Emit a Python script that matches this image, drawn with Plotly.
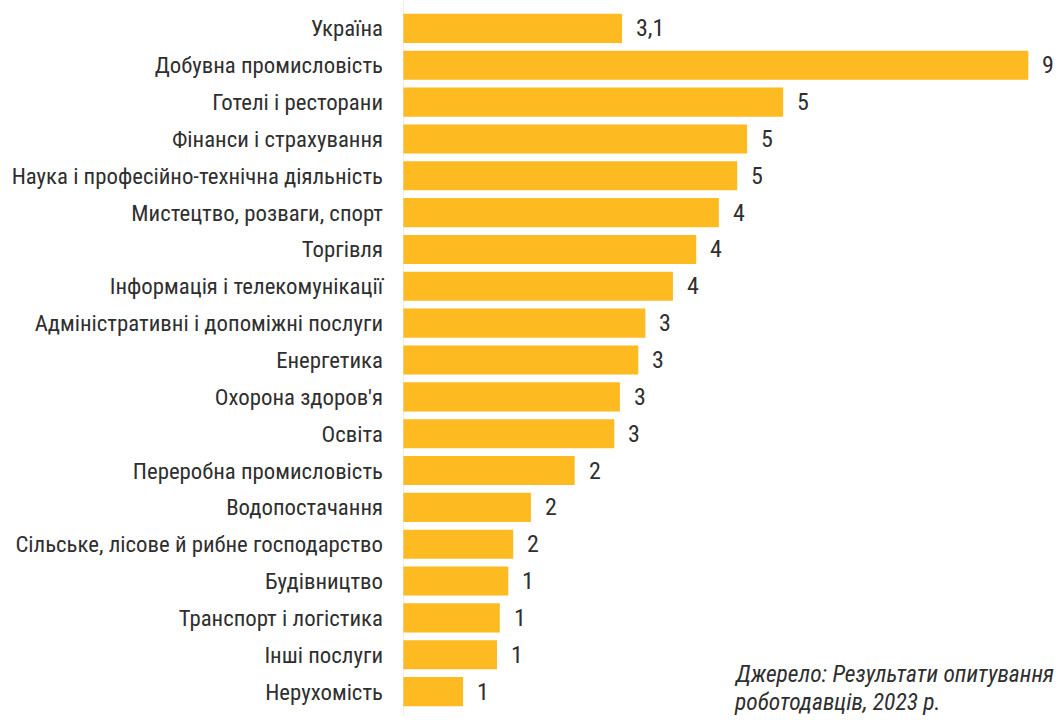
import plotly.graph_objects as go

# Sectors, top to bottom
categories = [
    "Україна",
    "Добувна промисловість",
    "Готелі і ресторани",
    "Фінанси і страхування",
    "Наука і професійно-технічна діяльність",
    "Мистецтво, розваги, спорт",
    "Торгівля",
    "Інформація і телекомунікації",
    "Адміністративні і допоміжні послуги",
    "Енергетика",
    "Охорона здоров'я",
    "Освіта",
    "Переробна промисловість",
    "Водопостачання",
    "Сільське, лісове й рибне господарство",
    "Будівництво",
    "Транспорт і логістика",
    "Інші послуги",
    "Нерухомість",
]

values = [3.1, 8.85, 5.38, 4.87, 4.73, 4.47, 4.15, 3.82, 3.43, 3.33,
          3.07, 2.99, 2.43, 1.81, 1.56, 1.49, 1.37, 1.33, 0.85]

# Country total shown with one decimal, sectors rounded to whole numbers
labels = [f"{v:.1f}".replace(".", ",") if i == 0 else f"{round(v):d}"
          for i, v in enumerate(values)]

source_lines = ["Джерело: Результати опитування", "роботодавців, 2023 р."]

FONT = "Roboto Condensed, Liberation Sans Narrow, DejaVu Sans Condensed, Roboto, sans-serif"
TEXT_COLOR = "#2f2f2f"
BAR_COLOR = "#FDBA21"

fig = go.Figure(
    go.Bar(
        x=values,
        y=categories,
        orientation="h",
        marker=dict(color=BAR_COLOR, line=dict(width=0)),
        hoverinfo="skip",
    )
)

# Value labels to the right of each bar
for cat, v, lab in zip(categories, values, labels):
    fig.add_annotation(
        x=v, y=cat, xref="x", yref="y",
        text=lab, showarrow=False,
        xanchor="left", yanchor="middle", xshift=12,
        font=dict(family=FONT, size=24, color=TEXT_COLOR),
    )

# Source note, bottom right
for i, line in enumerate(source_lines):
    fig.add_annotation(
        x=0.502, y=0.052 - i * 0.040, xref="paper", yref="paper",
        text=f"<i>{line}</i>", showarrow=False,
        xanchor="left", yanchor="middle",
        font=dict(family=FONT, size=23.5, color=TEXT_COLOR),
    )

# Thin vertical baseline at zero, slightly taller than the bar stack
fig.add_shape(
    type="line", xref="x", yref="paper",
    x0=0, x1=0, y0=-0.008, y1=1.014,
    line=dict(color="#dcdcdc", width=1),
)

fig.update_layout(
    width=1058,
    height=720,
    margin=dict(l=403, r=0, t=10, b=10),
    paper_bgcolor="white",
    plot_bgcolor="white",
    bargap=0.21,
    showlegend=False,
    font=dict(family=FONT, size=22.8, color=TEXT_COLOR),
    xaxis=dict(
        range=[0, 9.27],
        visible=False,
        fixedrange=True,
    ),
    yaxis=dict(
        categoryorder="array",
        categoryarray=categories[::-1],
        autorange=False,
        range=[-0.5, len(categories) - 0.5],
        showline=False,
        showgrid=False,
        zeroline=False,
        ticks="",
        ticklabelstandoff=19,
        tickfont=dict(family=FONT, size=22.8, color=TEXT_COLOR),
        fixedrange=True,
    ),
)

fig.write_html("out.html", config={"displayModeBar": False})
